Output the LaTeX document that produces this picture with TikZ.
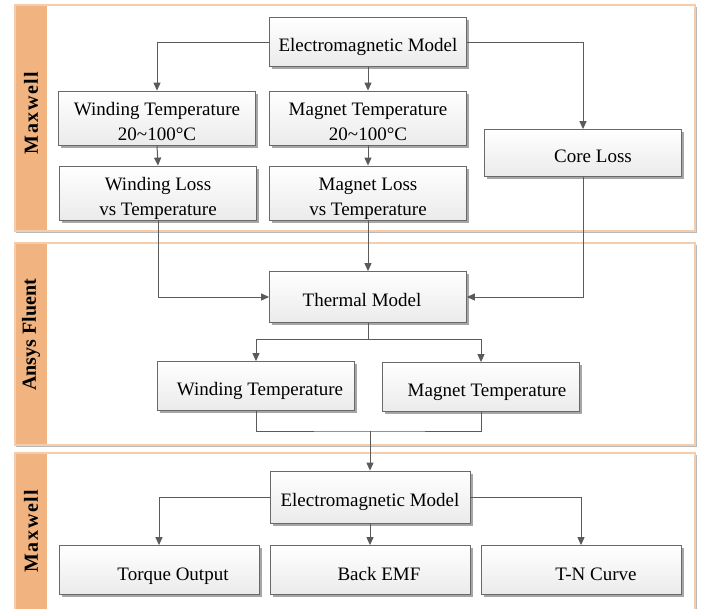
\documentclass[tikz,border=0pt]{standalone}
\usepackage{fontspec}
\setmainfont{Liberation Serif}
\usetikzlibrary{arrows.meta,shadows}
\definecolor{stripc}{RGB}{241,180,128}
\definecolor{pborder}{RGB}{245,205,172}
\definecolor{lineg}{RGB}{90,90,90}
\definecolor{boxedge}{RGB}{105,105,105}
\newcommand{\toprl}{\rule{0pt}{24pt}}
\newcommand{\botrl}{\rule[-5pt]{0pt}{5pt}}
\begin{document}
\begin{tikzpicture}[x=1pt,y=-1pt,
  box/.style={draw=boxedge, line width=0.8pt, top color=white, bottom color=gray!16,
    minimum width=197pt, minimum height=49pt, align=center, inner sep=0pt,
    font=\fontsize{19}{25}\selectfont,
    drop shadow={shadow xshift=2.5pt, shadow yshift=-2.5pt, fill=gray!70, opacity=1}},
  oneline/.style={text height=18pt, text depth=0pt},
  lowline/.style={text height=21pt, text depth=0pt},
  conn/.style={draw=lineg, line width=1pt},
  arr/.style={conn, -{Triangle[length=8pt,width=7pt]}},
  panel/.style={draw=pborder, line width=1.6pt, fill=white},
  pshadow/.style={fill=gray!55},
  plabel/.style={rotate=90, font=\bfseries\fontsize{20}{22}\selectfont}
]
\useasboundingbox (0,0) rectangle (701,608);
% panels
\fill[pshadow] (16,7) rectangle (697,233);
\draw[panel] (15,5) rectangle (695,231);
\fill[stripc] (15.8,5.8) rectangle (47,230.2);
\node[plabel] (p1) at (31,113) {\addfontfeature{LetterSpace=8}Maxwell};

\fill[pshadow] (16,245) rectangle (697,447);
\draw[panel] (15,243) rectangle (695,445);
\fill[stripc] (15.8,243.8) rectangle (47,444.2);
\node[plabel] (p2) at (31,335) {Ansys Fluent};

\fill[pshadow] (16,455) rectangle (697,640);
\draw[panel] (15,453) rectangle (695,630);
\fill[stripc] (15.8,453.8) rectangle (47,630);
\node[plabel] (p3) at (31,531) {\addfontfeature{LetterSpace=8}Maxwell};

% boxes
\node[box, oneline] (em1) at (368,42) {Electromagnetic Model};
\node[box] (wt) at (157,118) {\toprl Winding Temperature\\20\textasciitilde 100°C\botrl};
\node[box] (mt) at (368,118) {\toprl Magnet Temperature\\20\textasciitilde 100°C\botrl};
\node[box, oneline, minimum height=47pt] (core) at (583,153) {\hspace*{20pt}Core Loss};
\node[box] (wl) at (158,193) {\toprl Winding Loss\\vs Temperature\botrl};
\node[box] (ml) at (368,193) {\toprl Magnet Loss\\vs Temperature\botrl};
\node[box, oneline, minimum height=51pt] (th) at (368,297) {\hspace*{-12pt}Thermal Model};
\node[box, oneline] (awt) at (256,386) {\hspace*{8pt}Winding Temperature};
\node[box, oneline] (amt) at (481,387) {\hspace*{12pt}Magnet Temperature};
\node[box, oneline, minimum height=52pt, minimum width=200pt] (em2) at (370,497) {Electromagnetic Model};
\node[box, lowline, minimum width=200pt] (tq) at (159,570) {\hspace*{28pt}Torque Output};
\node[box, lowline, minimum width=200pt] (bemf) at (370,570) {\hspace*{18pt}Back EMF};
\node[box, lowline, minimum width=200pt] (tn) at (581,570) {\hspace*{30pt}T-N Curve};

% connectors
\draw[arr] (em1.west) -| (wt.north);
\draw[arr] (em1.east) -| (core.north);
\draw[arr] (em1.south) -- (mt.north);
\draw[arr] (wt.south) -- (wl.north);
\draw[arr] (mt.south) -- (ml.north);
\draw[arr] (wl.south) |- (th.west);
\draw[arr] (ml.south) -- (th.north);
\draw[arr] (core.south) |- (th.east);
\coordinate (s1) at (368,339);
\draw[conn] (th.south) -- (s1);
\draw[arr] (s1) -| (awt.north);
\draw[arr] (s1) -| (amt.north);
\coordinate (m1) at (370,431);
\draw[conn] (awt.south) |- (m1) -| (amt.south);
\draw[arr] (m1) -- (em2.north);
\draw[arr] (em2.west) -| (tq.north);
\draw[arr] (em2.east) -| (tn.north);
\draw[arr] (em2.south) -- (bemf.north);
\end{tikzpicture}
\end{document}
